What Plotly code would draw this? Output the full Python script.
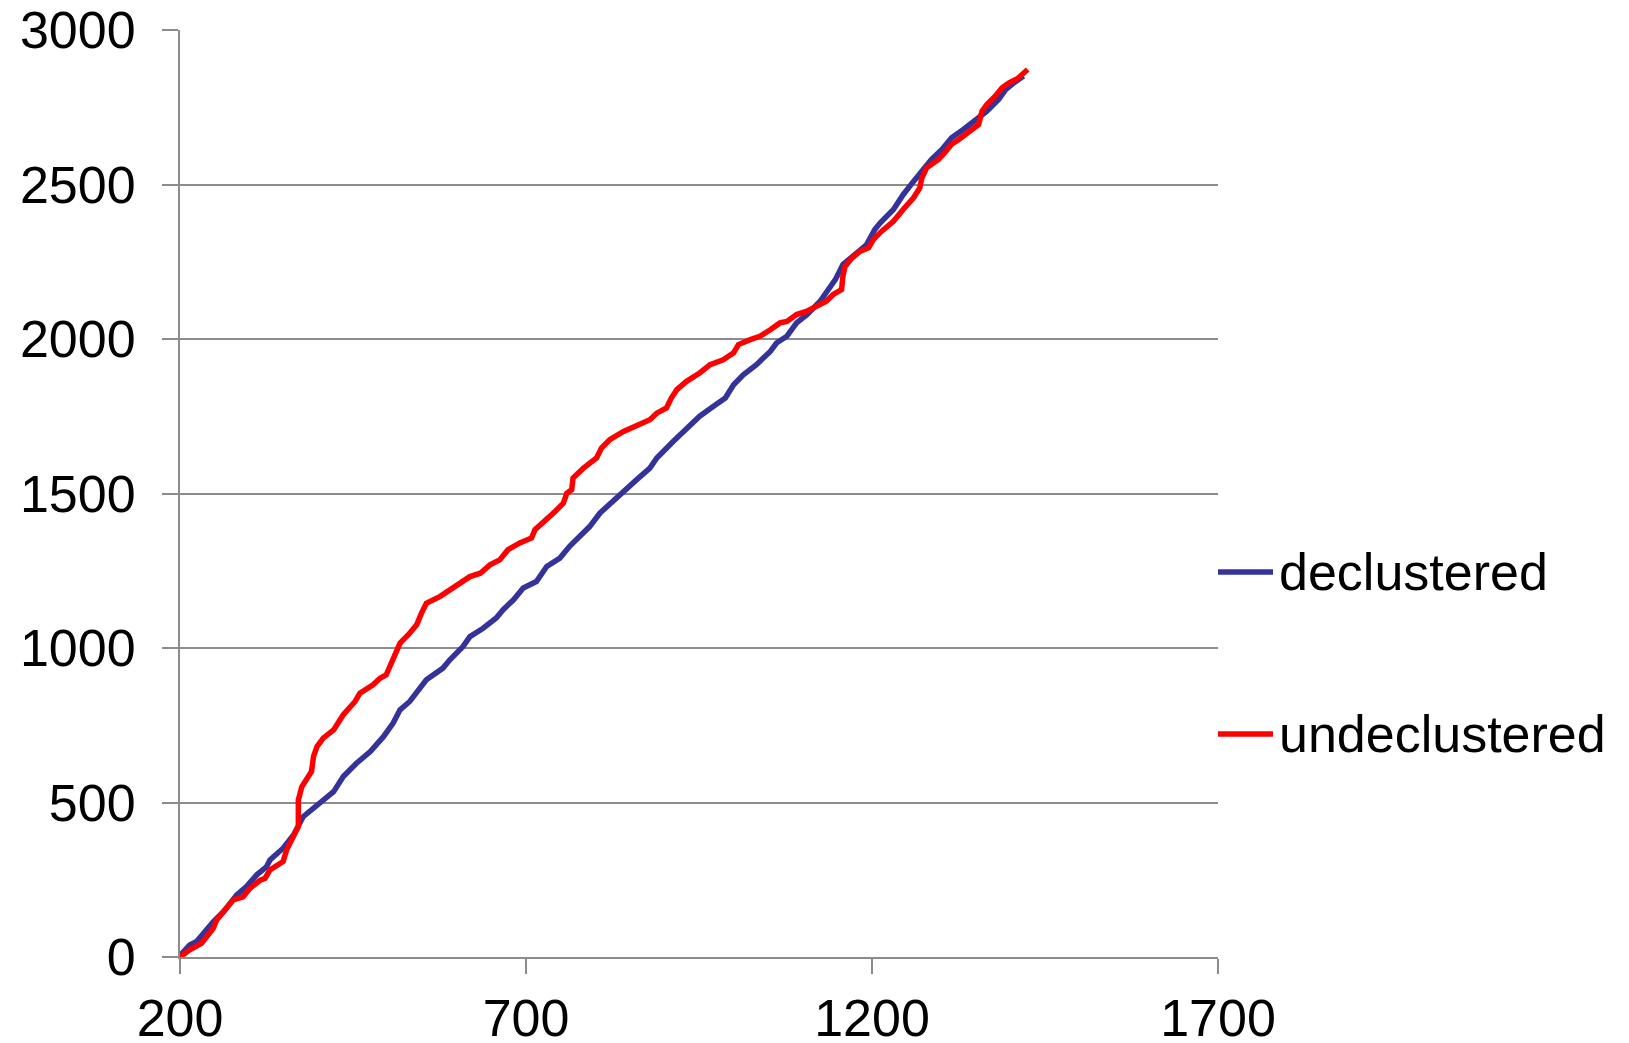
import plotly.graph_objects as go

# declustered series (blue)
decl_x = [200, 214, 224, 234, 248, 263, 282, 296, 311, 325, 330, 349, 364, 378, 398, 422, 436, 455, 475, 494,
          508, 518, 532, 544, 556, 580, 590, 609, 619, 638, 657, 667, 682, 696, 715, 730, 749, 763, 778, 792,
          807, 821, 841, 860, 879, 889, 913, 932, 946, 951, 971, 988, 1000, 1014, 1033, 1053, 1062, 1077, 1091,
          1106, 1125, 1134, 1147, 1158, 1178, 1192, 1204, 1212, 1231, 1245, 1260, 1272, 1286, 1301, 1315, 1332,
          1351, 1366, 1383, 1393, 1405, 1419]
decl_y = [5, 39, 50, 77, 114, 147, 201, 228, 266, 292, 314, 352, 395, 454, 492, 535, 584, 627, 665, 713,
          757, 800, 827, 865, 897, 935, 962, 1005, 1037, 1064, 1097, 1124, 1156, 1194, 1215, 1264, 1291, 1329, 1361, 1393,
          1437, 1464, 1507, 1545, 1582, 1615, 1669, 1712, 1744, 1750, 1782, 1809, 1852, 1884, 1917, 1960, 1987, 2009, 2052,
          2079, 2122, 2149, 2192, 2241, 2278, 2305, 2354, 2376, 2419, 2467, 2510, 2543, 2581, 2613, 2651, 2678,
          2710, 2737, 2775, 2807, 2829, 2851]

# undeclustered series (red)
undecl_x = [200, 214, 231, 239, 248, 253, 263, 277, 291, 301, 316, 323, 330, 349, 354, 366, 371, 371, 376, 390,
            393, 398, 407, 422, 436, 453, 460, 479, 489, 498, 506, 513, 518, 530, 542, 549, 556, 576, 595, 619,
            634, 648, 662, 674, 691, 708, 713, 730, 742, 754, 759, 766, 768, 783, 802, 809, 821, 841, 865, 879,
            889, 903, 910, 918, 932, 951, 966, 985, 1000, 1007, 1024, 1038, 1053, 1067, 1077, 1091, 1106, 1120,
            1134, 1144, 1156, 1158, 1161, 1171, 1183, 1195, 1202, 1214, 1231, 1245, 1260, 1269, 1272, 1279, 1296,
            1305, 1315, 1325, 1339, 1354, 1359, 1366, 1378, 1388, 1398, 1410, 1417, 1425]
undecl_y = [0, 23, 44, 66, 93, 120, 147, 185, 195, 222, 249, 255, 282, 309, 346, 400, 422, 508, 551, 600,
            649, 681, 708, 735, 784, 827, 854, 881, 902, 913, 951, 994, 1016, 1043, 1075, 1113, 1145, 1167, 1194, 1231,
            1242, 1269, 1285, 1318, 1340, 1356, 1383, 1415, 1442, 1469, 1501, 1512, 1550, 1582, 1615, 1647, 1674, 1701, 1728, 1739,
            1760, 1777, 1809, 1836, 1863, 1890, 1917, 1933, 1955, 1982, 1998, 2009, 2030, 2052, 2057, 2079, 2090, 2106,
            2122, 2144, 2160, 2203, 2235, 2262, 2284, 2295, 2322, 2349, 2381, 2419, 2457, 2489, 2521, 2554, 2581,
            2603, 2630, 2645, 2667, 2694, 2737, 2759, 2786, 2813, 2829, 2842, 2856, 2872]

series_names = ["declustered", "undeclustered"]
series_colors = ["#333399", "#FF0000"]
x_ticks = [200, 700, 1200, 1700]
y_ticks = [0, 500, 1000, 1500, 2000, 2500, 3000]

FONT = "Liberation Sans, Arial, sans-serif"
GRID = "#8c8c8c"
FS = 52

fig = go.Figure()
for xs, ys, name, col in [(decl_x, decl_y, series_names[0], series_colors[0]),
                          (undecl_x, undecl_y, series_names[1], series_colors[1])]:
    fig.add_trace(go.Scatter(x=xs, y=ys, mode="lines", name=name, showlegend=False,
                             line=dict(color=col, width=5.5)))

# manual legend (positions in paper coordinates, outside the plot area on the right)
legend_y = [0.4153, 0.2406]
for name, col, ly in zip(series_names, series_colors, legend_y):
    fig.add_shape(type="line", xref="paper", yref="paper", x0=1.0, x1=1.053, y0=ly, y1=ly,
                  line=dict(color=col, width=5.5))
    fig.add_annotation(xref="paper", yref="paper", x=1.0568, y=ly, text=name, showarrow=False,
                       xanchor="left", yanchor="middle", font=dict(size=FS, color="black", family=FONT))

fig.update_layout(
    width=1621, height=1035,
    margin=dict(l=172, r=411, t=22, b=86, autoexpand=False),
    plot_bgcolor="white", paper_bgcolor="white",
    font=dict(family=FONT, size=FS, color="black"),
    showlegend=False,
    xaxis=dict(range=[200, 1700], tickvals=x_ticks, ticktext=[str(v) for v in x_ticks],
               showgrid=False, zeroline=False, showline=True, linecolor=GRID, linewidth=2,
               ticks="outside", ticklen=15, tickcolor=GRID, tickwidth=2, ticklabeloverflow="allow"),
    yaxis=dict(range=[0, 3000], tickvals=y_ticks, ticktext=[str(v) for v in y_ticks],
               showgrid=True, gridcolor=GRID, gridwidth=2, zeroline=False,
               showline=True, linecolor=GRID, linewidth=2,
               ticks="outside", ticklen=16, tickcolor=GRID, tickwidth=2, ticklabelstandoff=16,
               ticklabeloverflow="allow"),
)

fig.write_html("out.html")
